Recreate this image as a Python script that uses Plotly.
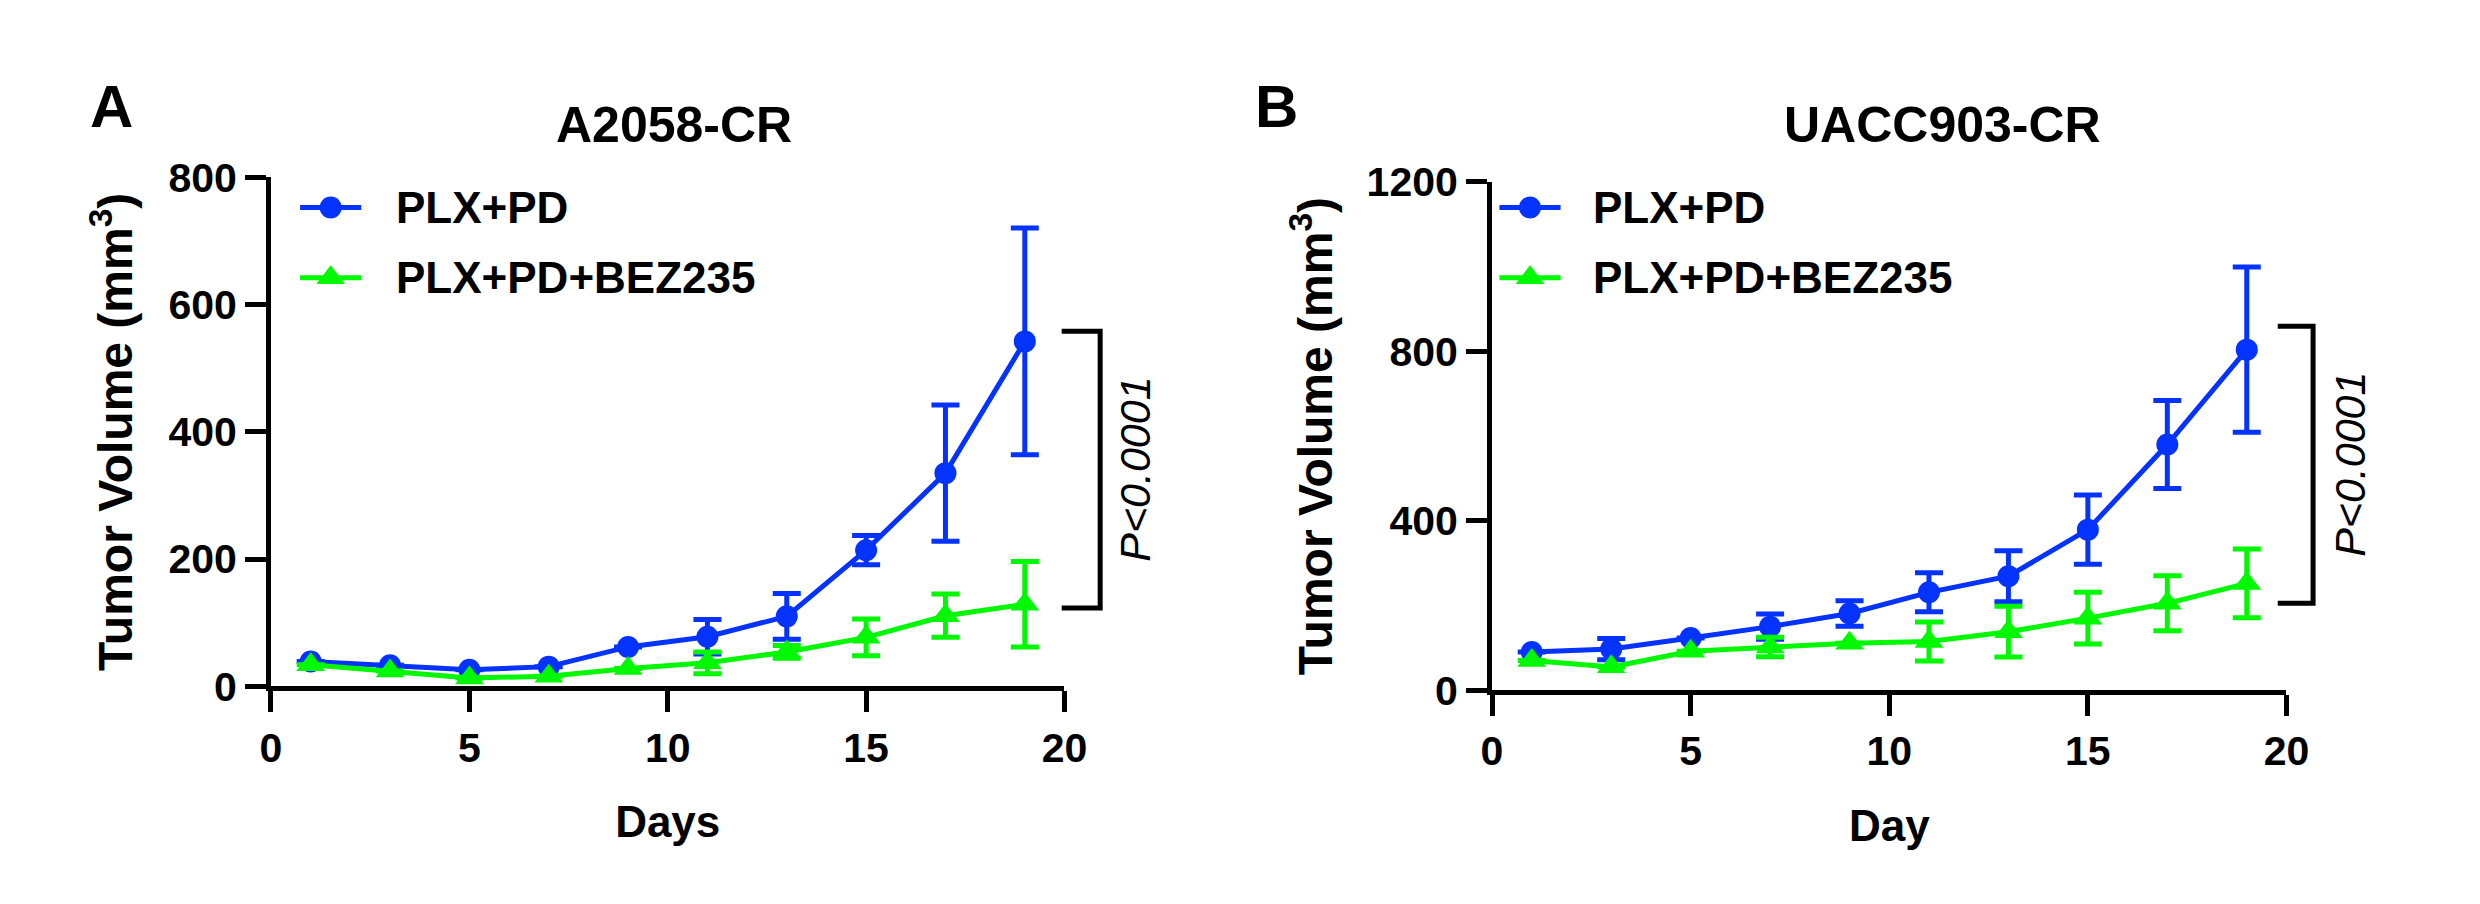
import plotly.graph_objects as go

# days of measurement (same for both panels)
days = [1, 3, 5, 7, 9, 11, 13, 15, 17, 19]
series_names = ["PLX+PD", "PLX+PD+BEZ235"]

# A2058-CR tumour volumes (mm3), mean and error (None = hidden by marker)
a_plxpd = [39, 33, 26, 31, 62, 78, 110, 214, 335, 542]
a_plxpd_err = [None, None, None, None, None, 27, 36, 23, 107, 178]
a_bez = [34, 24, 13, 16, 28, 37, 54, 77, 111, 129]
a_bez_err = [None, None, None, None, None, 17, 10, 29, 34, 67]

# UACC903-CR tumour volumes (mm3)
b_plxpd = [90, 97, 123, 150, 181, 231, 269, 379, 580, 804]
b_plxpd_err = [None, 25, None, 30, 30, 46, 60, 82, 104, 195]
b_bez = [70, 55, 92, 102, 111, 115, 138, 170, 205, 252]
b_bez_err = [None, None, None, 23, None, 46, 60, 61, 65, 81]

# significance brackets [low, high] in mm3 and p-value label
a_bracket = [123, 558]
b_bracket = [205, 859]
p_label = "P<0.0001"

BLUE = "#0433FF"
GREEN = "#00F900"
FONT = "Liberation Sans, Arial, sans-serif"
W, H = 2480, 904
CIRCLE, TRIANGLE = 22, 25

fig = go.Figure()

def add_series(y, err, name, color, symbol, xa, ya):
    fig.add_trace(go.Scatter(
        x=days, y=y, name=name, mode="lines+markers", showlegend=False,
        xaxis=xa, yaxis=ya,
        line=dict(color=color, width=5),
        marker=dict(color=color, size=CIRCLE if symbol == "circle" else TRIANGLE, symbol=symbol),
        error_y=dict(type="data", array=err, visible=True, color=color, thickness=5, width=14),
    ))

add_series(a_plxpd, a_plxpd_err, series_names[0], BLUE, "circle", "x", "y")
add_series(a_bez, a_bez_err, series_names[1], GREEN, "triangle-up", "x", "y")
add_series(b_plxpd, b_plxpd_err, series_names[0], BLUE, "circle", "x2", "y2")
add_series(b_bez, b_bez_err, series_names[1], GREEN, "triangle-up", "x2", "y2")

# legend samples: drawn on a hidden pixel-space axis pair (x3/y3)
legend_rows = [186, 260]
for left, text_x in [(285, 380), (1501, 1594)]:
    for name, color, symbol, row in [(series_names[0], BLUE, "circle", legend_rows[0]),
                                     (series_names[1], GREEN, "triangle-up", legend_rows[1])]:
        size = CIRCLE if symbol == "circle" else TRIANGLE
        fig.add_trace(go.Scatter(
            x=[left, left + 62], y=[row] * 2, mode="lines",
            xaxis="x3", yaxis="y3", showlegend=False, hoverinfo="skip", cliponaxis=False,
            line=dict(color=color, width=5),
        ))
        fig.add_trace(go.Scatter(
            x=[left + 31], y=[row], mode="markers",
            xaxis="x3", yaxis="y3", showlegend=False, hoverinfo="skip", cliponaxis=False,
            marker=dict(color=color, size=size, symbol=symbol, opacity=1, line=dict(width=0)),
        ))
        fig.add_annotation(x=text_x, y=row, xref="x3", yref="y3", text=name,
                           showarrow=False, xanchor="left", yanchor="middle",
                           font=dict(family=FONT, size=44, color="black", weight="bold"))

axis_common = dict(
    showline=True, linewidth=5, linecolor="black", mirror=False,
    ticks="outside", ticklen=21, tickwidth=5, tickcolor="black",
    showgrid=False, zeroline=False,
    tickfont=dict(family=FONT, size=41, color="black", weight="bold"),
)
title_font = dict(family=FONT, size=46, color="black", weight="bold")

# pixel layout of the two plotting areas
ax_a = dict(x0=255.5, x1=1060, y0=690.5, y1=154)
ax_b = dict(x0=1493.5, x1=2299, y0=694.5, y1=159)

def dom_x(p):
    return [p["x0"] / W, p["x1"] / W]

def dom_y(p):
    return [1 - p["y0"] / H, 1 - p["y1"] / H]

fig.update_layout(
    width=W, height=H,
    margin=dict(l=0, r=0, t=0, b=0),
    paper_bgcolor="white", plot_bgcolor="rgba(0,0,0,0)",
    showlegend=False,
    xaxis=dict(axis_common, domain=dom_x(ax_a), range=[0, 20], dtick=5, anchor="y",
               title=dict(text="Days", font=dict(title_font, size=44), standoff=38)),
    yaxis=dict(axis_common, domain=dom_y(ax_a), range=[0, 800], dtick=200, anchor="x",
               title=dict(text="Tumor Volume (mm<sup>3</sup>)", font=dict(title_font, size=48), standoff=22)),
    xaxis2=dict(axis_common, domain=dom_x(ax_b), range=[0, 20], dtick=5, anchor="y2",
                title=dict(text="Day", font=dict(title_font, size=44), standoff=38)),
    yaxis2=dict(axis_common, domain=dom_y(ax_b), range=[0, 1200], dtick=400, anchor="x2",
                title=dict(text="Tumor Volume (mm<sup>3</sup>)", font=dict(title_font, size=48), standoff=20)),
    xaxis3=dict(domain=[0, 1], range=[0, W], visible=False, fixedrange=True, anchor="y3"),
    yaxis3=dict(domain=[0, 1], range=[H, 0], visible=False, fixedrange=True, anchor="x3"),
)

# significance brackets drawn just right of each x axis
def bracket(xa, ya, lo_hi, ymax, x_arm, x_bar, x_text, text_y):
    lo, hi = lo_hi
    path = "M {a},{lo} L {b},{lo} L {b},{hi} L {a},{hi}".format(
        a=x_arm / 20, b=x_bar / 20, lo=lo / ymax, hi=hi / ymax)
    fig.add_shape(type="path", path=path, xref=xa + " domain", yref=ya + " domain",
                  line=dict(color="black", width=5))
    fig.add_annotation(x=x_text / 20, y=text_y / ymax, xref=xa + " domain", yref=ya + " domain",
                       text=p_label, textangle=-90, showarrow=False,
                       xanchor="center", yanchor="middle",
                       font=dict(family=FONT, size=43, color="black", style="italic"))

bracket("x", "y", a_bracket, 800, 19.93, 20.9, 21.78, sum(a_bracket) / 2)
bracket("x2", "y2", b_bracket, 1200, 19.78, 20.67, 21.6, sum(b_bracket) / 2)

# panel titles and letters
for text, x, y, size in [("A2058-CR", 664, 99, 50), ("UACC903-CR", 1950, 99, 50),
                         ("A", 94, 80, 60), ("B", 1275, 80, 60)]:
    fig.add_annotation(x=x / W, y=1 - y / H, xref="paper", yref="paper", text=text,
                       showarrow=False, xanchor="center", yanchor="middle",
                       font=dict(family=FONT, size=size, color="black", weight="bold"))

fig.write_html("out.html")
